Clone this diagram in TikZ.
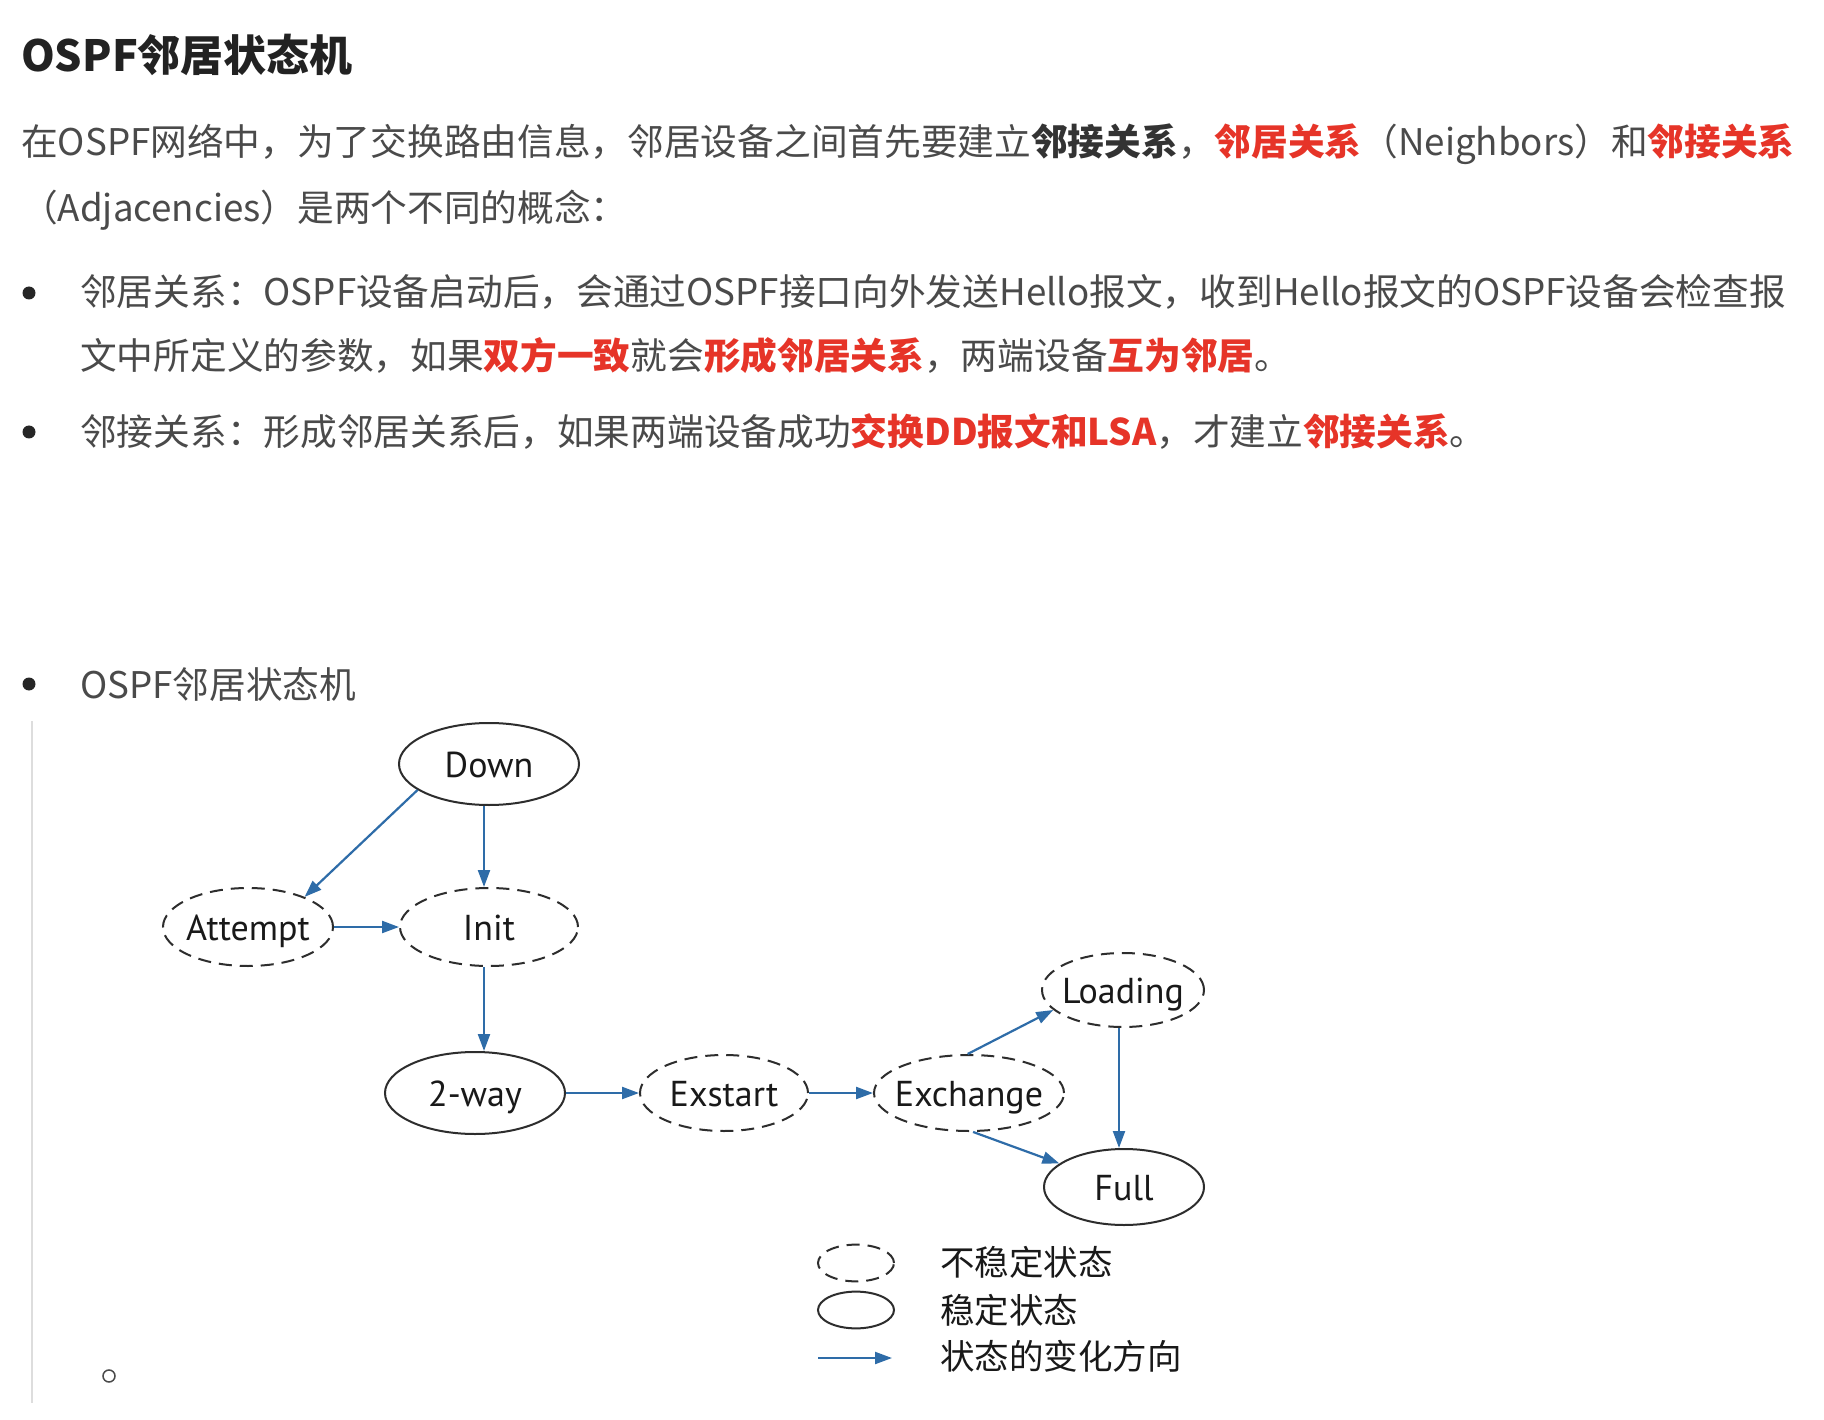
\documentclass[tikz,border=0pt]{standalone}
\usepackage{fontspec}
\setmainfont{Noto Sans CJK SC}
\newfontfamily\labfont{PT Sans}
\usetikzlibrary{shapes.geometric,arrows.meta}
\definecolor{bodygray}{RGB}{74,74,74}
\definecolor{titlecol}{RGB}{34,34,34}
\definecolor{boldcol}{RGB}{51,51,51}
\definecolor{hired}{RGB}{230,52,40}
\definecolor{arrblue}{RGB}{46,108,168}
\definecolor{edgecol}{RGB}{45,45,45}
\definecolor{labtext}{RGB}{25,25,25}
\definecolor{rulegray}{RGB}{221,221,221}
\newcommand{\hr}[1]{{\bfseries\color{hired}#1}}
\newcommand{\hb}[1]{{\bfseries\color{boldcol}#1}}
\begin{document}
\begin{tikzpicture}[x=1pt,y=-1pt,
  txt/.style={anchor=base west, inner sep=0pt, font=\fontsize{36.7}{40}\selectfont, text=bodygray},
  ttl/.style={anchor=base west, inner sep=0pt, font=\fontsize{43}{48}\selectfont\bfseries, text=titlecol},
  legtxt/.style={anchor=west, inner sep=0pt, font=\fontsize{34.5}{38}\selectfont, text=labtext},
  stable/.style={ellipse, draw=edgecol, line width=2pt, inner xsep=-20pt, inner ysep=0pt,
    text height=26pt, text depth=0pt, font=\labfont\fontsize{36}{40}\selectfont, text=labtext},
  unstable/.style={stable, dash pattern=on 13pt off 8pt},
  arr/.style={draw=arrblue, line width=2.2pt, -{Triangle[length=17pt,width=12pt]}},
  bullet/.style={circle, fill=black!85, inner sep=0pt, minimum size=13pt}
]
\useasboundingbox (0,0) rectangle (1824,1420);
\fill[white] (0,0) rectangle (1824,1420);

% title and paragraph
\node[ttl] (title) at (21,72) {OSPF邻居状态机};
\node[txt] (p1) at (21,156) {在OSPF网络中，为了交换路由信息，邻居设备之间首先要建立\hb{邻接关系}，\hr{邻居关系}（Neighbors）和\hr{邻接关系}};
\node[txt] (p2) at (21,222) {（Adjacencies）是两个不同的概念：};

% bullets
\node[bullet] (b1) at (29,293) {};
\node[txt] (b1a) at (80,306) {邻居关系：OSPF设备启动后，会通过OSPF接口向外发送Hello报文，收到Hello报文的OSPF设备会检查报};
\node[txt] (b1b) at (80,370) {文中所定义的参数，如果\hr{双方一致}就会\hr{形成邻居关系}，两端设备\hr{互为邻居}。};
\node[bullet] (b2) at (29,432) {};
\node[txt] (b2a) at (80,446) {邻接关系：形成邻居关系后，如果两端设备成功\hr{交换DD报文和LSA}，才建立\hr{邻接关系}。};
\node[bullet] (b3) at (29,684) {};
\node[txt] (b3a) at (80,698) {OSPF邻居状态机};

% left rule and sub bullet
\draw[rulegray, line width=2pt] (32,721) -- (32,1403);
\node[circle, draw=bodygray, line width=1.5pt, inner sep=0pt, minimum size=12pt] (sub) at (109,1376) {};

% state machine
\node[stable, minimum width=180pt, minimum height=82pt] (down) at (489,764) {Down};
\node[unstable, minimum width=170pt, minimum height=78pt] (attempt) at (248,927) {Attempt};
\node[unstable, minimum width=178pt, minimum height=78pt] (init) at (489,927) {Init};
\node[stable, minimum width=180pt, minimum height=82pt] (twoway) at (475,1093) {2-way};
\node[unstable, minimum width=168pt, minimum height=76pt] (exstart) at (724,1093) {Exstart};
\node[unstable, minimum width=190pt, minimum height=76pt] (exchange) at (969,1093) {Exchange};
\node[unstable, minimum width=162pt, minimum height=74pt] (loading) at (1123,990) {Loading};
\node[stable, minimum width=160pt, minimum height=76pt] (full) at (1124,1187) {Full};

\draw[arr] (down.200) -- (attempt.28);
\draw[arr] ([xshift=-5pt]down.south) -- ([xshift=-5pt]down.south |- init.north);
\draw[arr] (attempt.east) -- (init.west);
\draw[arr] ([xshift=-5pt]init.south) -- ([xshift=-5pt]init.south |- twoway.north);
\draw[arr] (twoway.east) -- (exstart.west);
\draw[arr] (exstart.east) -- (exchange.west);
\draw[arr] (exchange.92) -- (loading.196);
\draw[arr] ([xshift=-4pt]loading.south) -- ([xshift=-4pt]loading.south |- full.north);
\draw[arr] (exchange.276) -- (full.160);

% legend
\node[unstable, minimum width=76pt, minimum height=32pt] (legu) at (856,1263) {};
\node[stable, minimum width=76pt, minimum height=32pt] (legs) at (856,1310) {};
\coordinate (legA) at (818,1358);
\coordinate (legB) at (892,1358);
\draw[arr] (legA) -- (legB);
\node[legtxt] (lt1) at (940,1262) {不稳定状态};
\node[legtxt] (lt2) at (940,1310) {稳定状态};
\node[legtxt] (lt3) at (940,1356) {状态的变化方向};
\end{tikzpicture}
\end{document}
